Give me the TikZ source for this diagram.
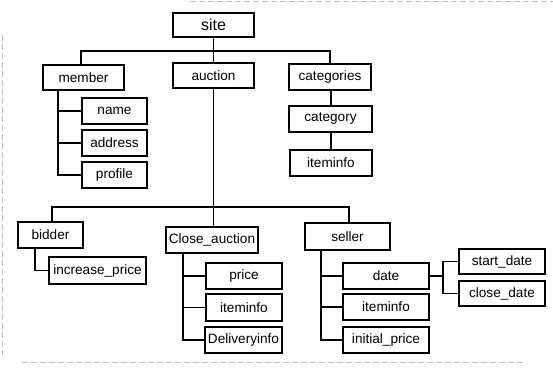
\documentclass[tikz,border=0pt]{standalone}
\usepackage{fontspec}
\setmainfont{Liberation Sans}
\begin{document}
\begin{tikzpicture}[x=1pt,y=-1pt,
  box/.style={draw, line width=1.1pt, inner sep=0pt, minimum height=26pt, font=\fontsize{13.6}{15}\selectfont},
  conn/.style={line width=1.1pt},
  scan/.style={gray!50, line width=0.6pt, dash pattern=on 6pt off 3pt}]
\useasboundingbox (0,0) rectangle (553,368);
\fill[white] (0,0) rectangle (553,368);
% faint scan edges
\draw[scan] (190,1.5) -- (553,1.5);
\draw[scan] (22,362) -- (525,362);
\draw[scan] (2.5,35) -- (2.5,355);
% nodes
\node[box, minimum width=81pt, minimum height=24pt, font=\fontsize{16}{18}\selectfont] (site) at (213.5,25) {site};
\node[box, minimum width=81pt, minimum height=25pt] (member) at (83.5,77.5) {member};
\node[box, minimum width=81pt, minimum height=25pt] (auction) at (213.5,75.5) {auction};
\node[box, minimum width=82pt] (categories) at (330,77) {categories};
\node[box, minimum width=83pt] (category) at (330.5,119) {category};
\node[box, minimum width=82pt] (itemA) at (331,163) {iteminfo};
\node[box, minimum width=65pt] (name) at (114.5,111) {name};
\node[box, minimum width=65pt] (address) at (114.5,143) {address};
\node[box, minimum width=65pt] (profile) at (114.5,175) {profile};
\node[box, minimum width=65pt] (bidder) at (50.5,235) {bidder};
\node[box, minimum width=97pt, minimum height=27pt] (incprice) at (97.5,270.5) {increase\_price};
\node[box, minimum width=92pt] (closeauc) at (212,240) {Close\_auction};
\node[box, minimum width=76pt] (price) at (244,276) {price};
\node[box, minimum width=76pt, minimum height=27pt] (itemB) at (244,307.5) {iteminfo};
\node[box, minimum width=77pt] (delivery) at (243.5,340) {Deliveryinfo};
\node[box, minimum width=85pt, minimum height=27pt] (seller) at (347.5,236.5) {seller};
\node[box, minimum width=86pt] (date) at (386,276) {date};
\node[box, minimum width=86pt] (itemC) at (386,307) {iteminfo};
\node[box, minimum width=86pt] (initprice) at (386,340) {initial\_price};
\node[box, minimum width=86pt, minimum height=25pt] (startdate) at (502,261.5) {start\_date};
\node[box, minimum width=86pt, minimum height=25pt] (closedate) at (502,293.5) {close\_date};
% connectors
\coordinate (mtop) at (81,65);
\draw[conn] (site) -- (auction);
\draw[conn] (mtop) -- ++(0,-14) -| (categories.north);
\coordinate (cx) at (331,0);
\draw[conn] (categories.south -| cx) -- (category.north -| cx);
\draw[conn] (category.south -| cx) -- (itemA.north);
\coordinate (mb) at (58,90);
\draw[conn] (mb) |- (profile.west);
\draw[conn] (mb |- name) -- (name.west);
\draw[conn] (mb |- address) -- (address.west);
\coordinate (abus) at (214,207);
\draw[conn] (auction.south) -- (auction.south |- closeauc.north);
\coordinate (btop) at (52,222);
\coordinate (stop) at (349,223);
\draw[conn] (btop) -- (btop |- abus) -| (stop);
\coordinate (bb) at (35,248);
\draw[conn] (bb) |- (incprice.west);
\coordinate (cb) at (183,253);
\draw[conn] (cb) |- (delivery.west);
\draw[conn] (cb |- price) -- (price.west);
\draw[conn] (cb |- itemB) -- (itemB.west);
\coordinate (sb) at (321,250);
\draw[conn] (sb) |- (initprice.west);
\draw[conn] (sb |- date) -- (date.west);
\draw[conn] (sb |- itemC) -- (itemC.west);
\coordinate (dj) at (443,276);
\draw[conn] (date.east) -- (dj);
\draw[conn] (startdate.west) -| (dj) |- (closedate.west);
\end{tikzpicture}
\end{document}
